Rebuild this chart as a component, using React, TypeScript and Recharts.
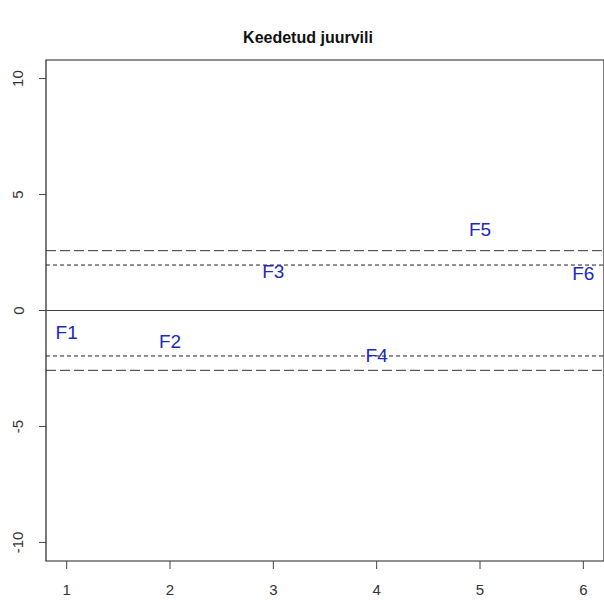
import {
  ScatterChart,
  Scatter,
  XAxis,
  YAxis,
  ReferenceLine,
  ReferenceArea,
} from 'recharts';

// Factor scores
const factorLabels = ['F1', 'F2', 'F3', 'F4', 'F5', 'F6'];
const factorX = [1, 2, 3, 4, 5, 6];
const factorY = [-0.95, -1.35, 1.7, -1.95, 3.5, 1.6];

const xTicks = [1, 2, 3, 4, 5, 6];
const yTicks = [-10, -5, 0, 5, 10];

// critical values drawn as dashed lines
const shortDashLevels = [1.96, -1.96];
const longDashLevels = [2.58, -2.58];

const points = factorLabels.map((name, i) => ({ name, x: factorX[i], y: factorY[i] }));

const FONT = '"Liberation Sans", Arial, sans-serif';

const LabelShape = (props: any) => {
  const { cx, cy, payload } = props;
  return (
    <text
      x={cx}
      y={cy}
      textAnchor="middle"
      dominantBaseline="central"
      fill="#1c28c0"
      fontSize={19}
      fontFamily={FONT}
    >
      {payload.name}
    </text>
  );
};

const YTick = (props: any) => {
  const { y, payload } = props;
  return (
    <text
      x={18}
      y={y}
      transform={`rotate(-90, 18, ${y})`}
      textAnchor="middle"
      dominantBaseline="central"
      fill="#333"
      fontSize={15}
      fontFamily={FONT}
    >
      {payload.value}
    </text>
  );
};

const XTick = (props: any) => {
  const { x, payload } = props;
  return (
    <text
      x={x}
      y={589}
      textAnchor="middle"
      dominantBaseline="central"
      fill="#333"
      fontSize={15}
      fontFamily={FONT}
    >
      {payload.value}
    </text>
  );
};

export default function App() {
  return (
    <div style={{ position: 'fixed', left: 0, top: 0, width: 604, height: 600, background: '#fff' }}>
      <div
        style={{
          position: 'absolute',
          left: 0,
          width: 616,
          top: 29,
          textAlign: 'center',
          fontFamily: FONT,
          fontWeight: 'bold',
          fontSize: 16,
          color: '#111',
        }}
      >
        Keedetud juurvili
      </div>
      <ScatterChart width={604} height={600} margin={{ top: 60, right: 0, left: 0, bottom: 0 }}>
        <XAxis
          type="number"
          dataKey="x"
          domain={[0.8, 6.2]}
          ticks={xTicks}
          allowDataOverflow
          axisLine={false}
          tickLine={{ stroke: '#444' }}
          tickSize={8}
          height={39}
          tick={<XTick />}
        />
        <YAxis
          type="number"
          dataKey="y"
          domain={[-10.8, 10.8]}
          ticks={yTicks}
          allowDataOverflow
          axisLine={false}
          tickLine={{ stroke: '#444' }}
          tickSize={7}
          width={46}
          tick={<YTick />}
        />
        <ReferenceArea
          x1={0.8}
          x2={6.2}
          y1={-10.8}
          y2={10.8}
          fill="none"
          fillOpacity={0}
          stroke="#222"
          strokeWidth={1.2}
          ifOverflow="visible"
        />
        <ReferenceLine y={0} stroke="#444" strokeWidth={1.2} />
        {shortDashLevels.map(v => (
          <ReferenceLine key={`s${v}`} y={v} stroke="#222" strokeDasharray="4 3" />
        ))}
        {longDashLevels.map(v => (
          <ReferenceLine key={`l${v}`} y={v} stroke="#333" strokeDasharray="10 4" />
        ))}
        <Scatter data={points} shape={<LabelShape />} isAnimationActive={false} />
      </ScatterChart>
    </div>
  );
}
